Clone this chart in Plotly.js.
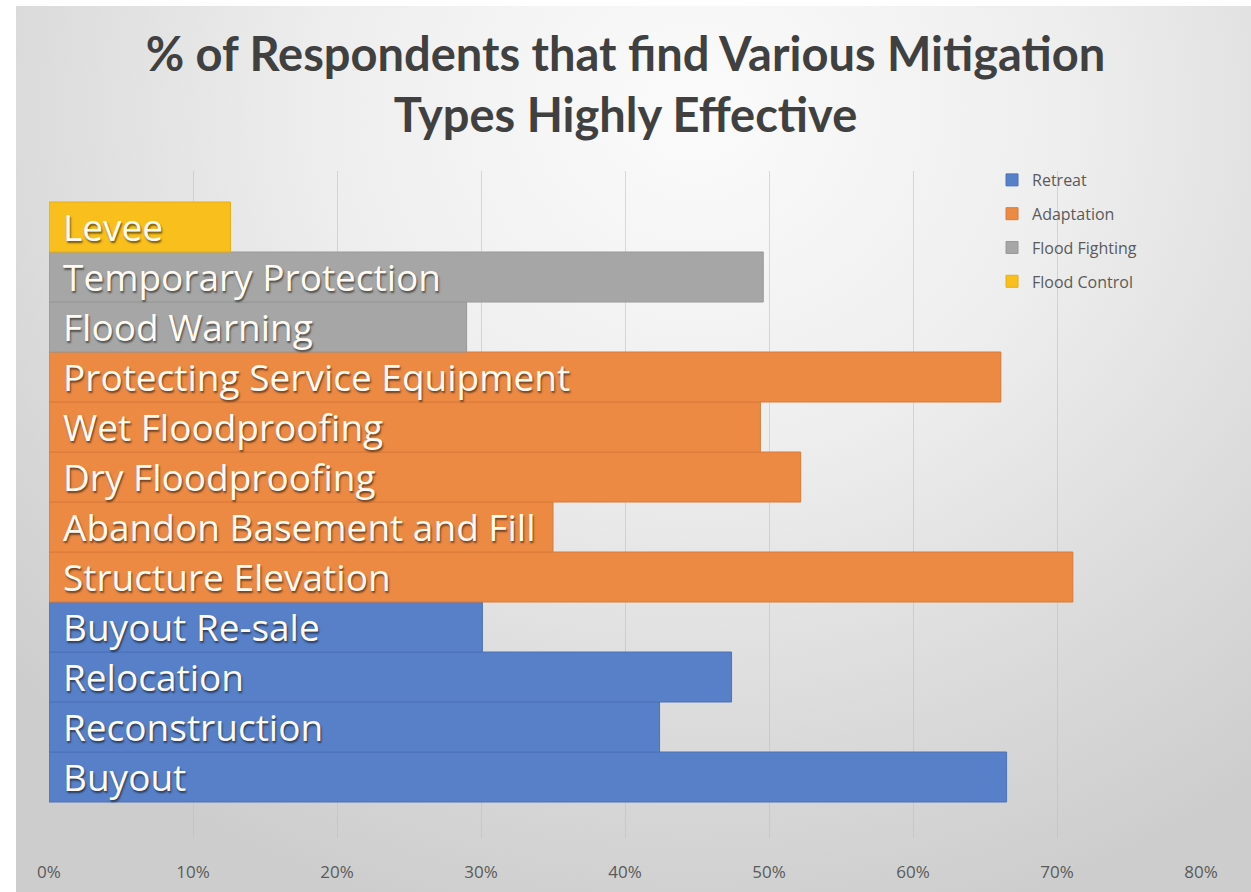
<!DOCTYPE html>
<html>
<head>
<meta charset="utf-8">
<script src="https://cdn.plot.ly/plotly-3.0.1.min.js"></script>
<style>
  html, body { margin: 0; padding: 0; background: #ffffff; }
  #wrap { position: relative; width: 1251px; height: 892px; overflow: hidden; }
  #bg {
    position: absolute; left: 16px; top: 6px; right: 0; bottom: 0;
    background: radial-gradient(ellipse 75% 95% at 55% 12%, #fbfbfb 0%, #eeeeee 40%, #dadada 75%, #cdcdcd 100%);
  }
  #chart { position: absolute; left: 0; top: 0; width: 1251px; height: 892px; }
</style>
</head>
<body>
<div id="wrap">
  <div id="bg"></div>
  <div id="chart"></div>
</div>
<script>
// Mitigation measures, grouped by strategy (bottom to top)
const retreatItems = ['Buyout', 'Reconstruction', 'Relocation', 'Buyout Re-sale'];
const retreatShare = [0.665, 0.424, 0.474, 0.301];

const adaptationItems = ['Structure Elevation', 'Abandon Basement and Fill', 'Dry Floodproofing',
                         'Wet Floodproofing', 'Protecting Service Equipment'];
const adaptationShare = [0.711, 0.350, 0.522, 0.494, 0.661];

const fightingItems = ['Flood Warning', 'Temporary Protection'];
const fightingShare = [0.290, 0.496];

const controlItems = ['Levee'];
const controlShare = [0.126];

const groupNames = ['Retreat', 'Adaptation', 'Flood Fighting', 'Flood Control'];
const groupColors = ['#5780c8', '#ec8a44', '#a6a6a6', '#f9bf1c'];
const groupEdges = ['#4d73b8', '#d97a38', '#989898', '#e8ae12'];

const xTicks = [0, 0.1, 0.2, 0.3, 0.4, 0.5, 0.6, 0.7, 0.8];
const xTickText = ['0%', '10%', '20%', '30%', '40%', '50%', '60%', '70%', '80%'];

const groups = [
  [retreatItems, retreatShare],
  [adaptationItems, adaptationShare],
  [fightingItems, fightingShare],
  [controlItems, controlShare]
];

const allItems = [].concat(retreatItems, adaptationItems, fightingItems, controlItems);

const traces = groups.map(([items, vals], i) => ({
  type: 'bar',
  orientation: 'h',
  name: groupNames[i],
  legendgroup: groupNames[i],
  y: items,
  x: vals,
  marker: { color: groupColors[i], line: { color: groupEdges[i], width: 1 } },
  hoverinfo: 'skip'
}));

// Category names written inside the bars, from the left edge
const labels = allItems.map(name => ({
  x: 0, y: name, xref: 'x', yref: 'y',
  xanchor: 'left', yanchor: 'middle',
  xshift: 12, yshift: 1,
  showarrow: false,
  text: name,
  font: {
    family: 'Open Sans, sans-serif', size: 37, color: '#fffbf2',
    shadow: '1px 2px 2px rgba(0,0,0,0.55)'
  }
}));

const layout = {
  width: 1251, height: 892,
  paper_bgcolor: 'rgba(0,0,0,0)',
  plot_bgcolor: 'rgba(0,0,0,0)',
  margin: { l: 49, r: 50, t: 171, b: 54 },
  barmode: 'overlay',
  bargap: 0,
  showlegend: true,
  title: {
    text: '% of Respondents that find Various Mitigation<br>Types Highly Effective',
    x: 0.5, xanchor: 'center',
    y: 0.92, yanchor: 'top',
    font: { family: 'Lato, sans-serif', size: 47, color: '#404040', weight: 700 }
  },
  xaxis: {
    range: [0, 0.8],
    tickvals: xTicks, ticktext: xTickText,
    showgrid: true, gridcolor: 'rgba(190,190,190,0.55)', gridwidth: 1,
    zeroline: false, showline: false, ticks: '',
    ticklabelstandoff: 22,
    tickfont: { family: 'Open Sans, sans-serif', size: 17, color: '#5a5a5a' }
  },
  yaxis: {
    type: 'category',
    categoryorder: 'array', categoryarray: allItems,
    range: [-1.22, 12.12],
    showticklabels: false, showgrid: false, zeroline: false, showline: false, ticks: ''
  },
  legend: {
    x: 0.8186, xanchor: 'left', y: 1.012, yanchor: 'top',
    traceorder: 'grouped', tracegroupgap: 10,
    bgcolor: 'rgba(0,0,0,0)',
    itemwidth: 30,
    font: { family: 'Open Sans, sans-serif', size: 16, color: '#5a5a5a' }
  },
  annotations: labels
};

Plotly.newPlot('chart', traces, layout, { displayModeBar: false, staticPlot: true });
</script>
</body>
</html>
